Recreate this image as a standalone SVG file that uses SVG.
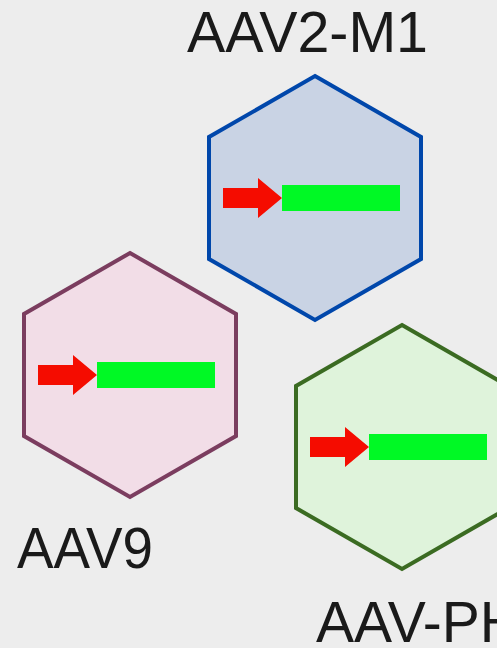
<svg xmlns="http://www.w3.org/2000/svg" width="497" height="648" viewBox="0 0 497 648">
<style>
.hex{stroke-width:4;stroke-linejoin:miter}
.lbl{font-family:"Liberation Sans","Open Sans",Arial,sans-serif;font-size:57px;fill:#1a1a1a}
.arr{fill:#f50c00}
.bar{fill:#00f925}
</style>
<defs>
<polygon id="hexshape" points="0,-122 106,-61 106,61 0,122 -106,61 -106,-61"/>
<g id="cassette">
<polygon class="arr" points="-92,-10 -57,-10 -57,-20 -33,0 -57,20 -57,10 -92,10"/>
<rect class="bar" x="-33" y="-13" width="118" height="26"/>
</g>
</defs>
<rect width="497" height="648" fill="#ededed"/>
<g id="aav2m1">
<use href="#hexshape" class="hex" x="315" y="198" fill="#c9d3e4" stroke="#0047ab"/>
<use href="#cassette" x="315" y="198"/>
<text class="lbl" x="187" y="52" textLength="241" lengthAdjust="spacingAndGlyphs">AAV2-M1</text>
</g>
<g id="aav9">
<use href="#hexshape" class="hex" x="130" y="375" fill="#f2dde7" stroke="#7b3d5f"/>
<use href="#cassette" x="130" y="375"/>
<text class="lbl" x="17" y="568" textLength="136" lengthAdjust="spacingAndGlyphs">AAV9</text>
</g>
<g id="aavph">
<use href="#hexshape" class="hex" x="402" y="447" fill="#dff3db" stroke="#3b6b22"/>
<use href="#cassette" x="402" y="447"/>
<text class="lbl" x="316" y="642" textLength="205" lengthAdjust="spacingAndGlyphs">AAV-PH</text>
</g>
<g id="connectors"/>
</svg>
